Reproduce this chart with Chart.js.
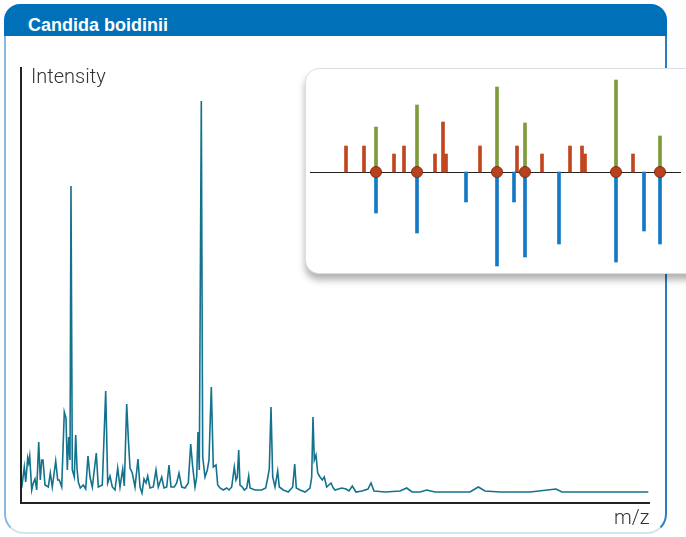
<!DOCTYPE html>
<html>
<head>
<meta charset="utf-8">
<script src="https://cdn.jsdelivr.net/npm/chart.js@4.4.0/dist/chart.umd.min.js"></script>
<style>
html, body { margin: 0; padding: 0; width: 686px; height: 537px; overflow: hidden; background: #fff; }
#header { position: absolute; left: 4px; top: 4px; width: 663px; height: 32px; background: #0071b9; border-radius: 16px 16px 0 0; }
#header span { position: absolute; left: 24px; top: 12px; font: bold 18px/18px "Liberation Sans", Arial, sans-serif; color: #fff; white-space: nowrap; }
#frame { position: absolute; left: 4px; top: 36px; width: 659px; height: 496px; border: 2px solid #2a7fc4; border-top: none; border-left-color: #8ab8e1; border-bottom-color: #d4e4ef; border-radius: 0 0 20px 20px; }
#main { position: absolute; left: 0; top: 0; }
#ylabel { position: absolute; left: 31px; top: 66px; font: 300 20px/20px Roboto, sans-serif; color: #333; }
#xlabel { position: absolute; left: 614px; top: 507px; font: 300 20px/20px Roboto, sans-serif; color: #333; }
#insetBox { position: absolute; left: 305px; top: 68px; width: 400px; height: 204px; background: #fff; border: 1px solid #dadfe4; border-radius: 14px; box-shadow: 0 6px 7px rgba(0,0,0,0.3); }
#inset { position: absolute; left: 300px; top: 72px; }
</style>
</head>
<body>
<div id="header"><span>Candida boidinii</span></div>
<div id="frame"></div>
<canvas id="main" width="686" height="537"></canvas>
<div id="ylabel">Intensity</div>
<div id="xlabel">m/z</div>
<div id="insetBox"></div>
<canvas id="inset" width="386" height="200"></canvas>
<script>
// main spectrum, m/z vs intensity (a.u.)
var mzValues = [2051, 2129, 2171, 2231, 2261, 2291, 2351, 2399, 2450, 2501, 2561, 2609, 2651, 2690, 2750, 2849, 2909, 2969, 3071, 3131,
    3179, 3251, 3329, 3380, 3419, 3461, 3500, 3530, 3569, 3629, 3671, 3710, 3749, 3809, 3899, 3971, 4040, 4100, 4169, 4289,
    4349, 4469, 4571, 4631, 4700, 4769, 4850, 4931, 5000, 5081, 5129, 5201, 5249, 5300, 5369, 5450, 5540, 5600, 5660, 5720,
    5780, 5831, 5900, 5999, 6080, 6149, 6251, 6320, 6401, 6470, 6530, 6629, 6701, 6770, 6851, 6950, 7049, 7121, 7181, 7250,
    7301, 7340, 7379, 7439, 7481, 7550, 7619, 7670, 7739, 7799, 7880, 7931, 8000, 8099, 8201, 8270, 8351, 8429, 8480, 8519,
    8561, 8600, 8669, 8729, 8801, 8861, 8900, 9050, 9251, 9371, 9431, 9479, 9530, 9581, 9650, 9731, 9779, 9899, 10049, 10181,
    10241, 10289, 10400, 10550, 10700, 10751, 10790, 10829, 10880, 10931, 11000, 11069, 11129, 11201, 11330, 11399, 11450, 11651, 11780, 11870,
    11969, 12080, 12260, 12440, 12530, 12620, 12950, 13400, 13601, 13760, 14000, 14201, 14450, 15050, 15500, 15749, 15950, 16400, 17300, 18080,
    18260, 19400, 20849];
var intensityValues = [16, 37, 22, 46, 41, 48, 14, 21, 25, 14, 62, 24, 44, 44, 19, 17, 31, 17, 43, 24,
    24, 17, 92, 86, 34, 67, 44, 318, 34, 27, 69, 36, 22, 16, 19, 15, 48, 27, 17, 51,
    17, 19, 113, 21, 28, 17, 14, 36, 17, 35, 18, 100, 66, 36, 31, 17, 45, 17, 11, 25,
    21, 28, 16, 17, 34, 17, 27, 16, 17, 39, 17, 17, 21, 31, 17, 16, 21, 60, 37, 17,
    27, 72, 34, 403, 47, 27, 34, 44, 117, 37, 39, 19, 16, 14, 16, 14, 17, 37, 24, 27,
    54, 19, 17, 14, 16, 28, 16, 14, 14, 16, 26, 35, 97, 27, 17, 33, 17, 14, 12, 17,
    40, 16, 14, 12, 16, 27, 87, 44, 49, 31, 27, 24, 27, 17, 21, 16, 14, 16, 15, 13,
    18, 12, 13, 15, 21, 13, 12, 13, 16, 12, 12, 14, 12, 12, 12, 17, 13, 12, 12, 15,
    12, 12, 12];

// inset: library peaks (red / green = matched), sample peaks (blue, below), matches (dots)
var libRedPos = [46, 64, 94, 104, 135, 143, 146, 180, 217, 242, 270, 282, 285, 333];
var libRedHeight = [26, 26, 18, 26, 18, 50, 18, 26, 26, 18, 26, 26, 18, 18];
var libGreenPos = [76, 117, 197, 225, 316, 360];
var libGreenHeight = [45, 67, 85, 49, 92, 36];
var samplePos = [76, 117, 166, 197, 214, 225, 259, 316, 344, 360];
var sampleDepth = [-41, -61, -30, -94, -30, -85, -72, -90, -59, -72];
var matchPos = [76, 117, 197, 225, 316, 360];

function pairs(xs, ys) {
    return xs.map(function (x, i) { return { x: x, y: ys[i] }; });
}

var axesPlugin = {
    id: 'axes',
    afterDatasetsDraw: function (chart) {
        var a = chart.chartArea, c = chart.ctx;
        c.save();
        c.strokeStyle = '#222';
        c.lineWidth = 2;
        c.beginPath();
        c.moveTo(a.left + 1, a.top);
        c.lineTo(a.left + 1, a.bottom - 1);
        c.lineTo(a.right, a.bottom - 1);
        c.stroke();
        c.restore();
    }
};

new Chart(document.getElementById('main'), {
    type: 'line',
    data: {
        datasets: [{
            data: pairs(mzValues, intensityValues),
            borderColor: '#13728c',
            borderWidth: 1.6,
            pointRadius: 0,
            tension: 0,
            fill: false
        }]
    },
    options: {
        responsive: false,
        animation: false,
        devicePixelRatio: 1,
        layout: { autoPadding: false, padding: { left: 20, right: 36, top: 67, bottom: 33 } },
        scales: {
            x: { type: 'linear', min: 2000, max: 20900, display: false },
            y: { min: 0, max: 437, display: false }
        },
        plugins: { legend: { display: false }, tooltip: { enabled: false } }
    },
    plugins: [axesPlugin]
});

var zeroLine = {
    id: 'zeroLine',
    beforeDatasetsDraw: function (chart) {
        var c = chart.ctx, x = chart.scales.x, y = chart.scales.y;
        var y0 = Math.round(y.getPixelForValue(0)) + 0.5;
        c.save();
        c.strokeStyle = '#222';
        c.lineWidth = 1.2;
        c.beginPath();
        c.moveTo(x.getPixelForValue(10), y0);
        c.lineTo(x.getPixelForValue(381), y0);
        c.stroke();
        c.restore();
    }
};

new Chart(document.getElementById('inset'), {
    type: 'bar',
    data: {
        datasets: [
            {
                type: 'scatter',
                data: matchPos.map(function (x) { return { x: x, y: 0 }; }),
                pointRadius: 5.5,
                backgroundColor: '#b8421d',
                borderColor: '#7f2d12',
                borderWidth: 1
            },
            { data: pairs(libRedPos, libRedHeight), backgroundColor: '#c1461f', barThickness: 3, grouped: false },
            { data: pairs(libGreenPos, libGreenHeight), backgroundColor: '#7f9b3b', barThickness: 3, grouped: false },
            { data: pairs(samplePos, sampleDepth), backgroundColor: '#1479c4', barThickness: 3, grouped: false }
        ]
    },
    options: {
        responsive: false,
        animation: false,
        devicePixelRatio: 1,
        layout: { autoPadding: false },
        scales: {
            x: { type: 'linear', min: 0, max: 386, offset: false, display: false },
            y: { min: -100, max: 100, display: false }
        },
        plugins: { legend: { display: false }, tooltip: { enabled: false } }
    },
    plugins: [zeroLine]
});
</script>
</body>
</html>
